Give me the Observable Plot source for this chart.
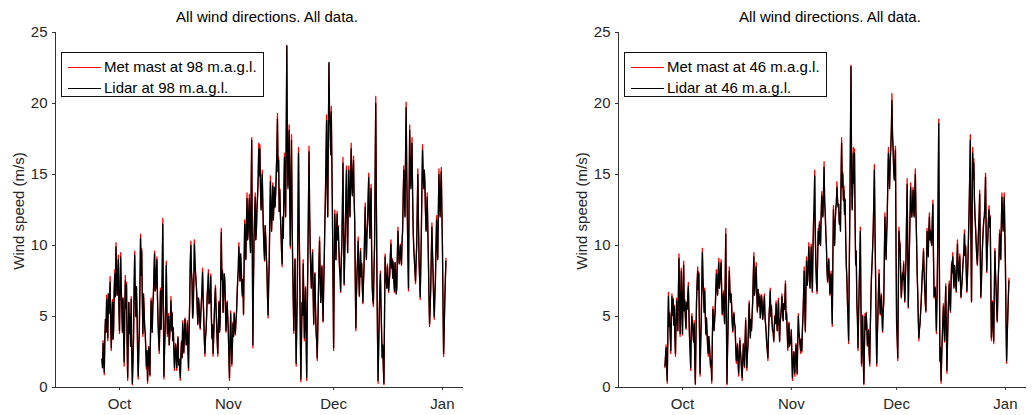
<!DOCTYPE html>
<html>
<head>
<meta charset="utf-8">
<script src="https://cdn.jsdelivr.net/npm/d3@7"></script>
<script src="https://cdn.jsdelivr.net/npm/@observablehq/plot@0.6"></script>
<style>
  html, body { margin: 0; padding: 0; background: #fff; }
  #wrap { position: relative; width: 1032px; height: 415px; overflow: hidden; background: #fff;
          font-family: "Liberation Sans", Arial, Helvetica, sans-serif; color: #262626; }
  .panel { position: absolute; top: 0; }
  .title { position: absolute; font-size: 15px; line-height: 15px; white-space: nowrap; transform: translateX(-50%); color: #000; }
  .ylab { position: absolute; font-size: 15px; line-height: 15px; white-space: nowrap;
          transform: translate(-50%, -50%) rotate(-90deg); color: #262626; }
  .legend { position: absolute; width: 201px; height: 43px; border: 1.5px solid #111; background: #fff; }
  .legend .row { position: absolute; left: 0; height: 16px; }
  .legend .row svg { position: absolute; left: 0; top: 0; }
  .legend .row span { position: absolute; left: 42px; top: 0; font-size: 15px; line-height: 16px; white-space: nowrap; color: #000; }
</style>
</head>
<body>
<div id="wrap"></div>
<script>
// ---------------- data ----------------
// 6 samples per day (every 4 hours), first sample 26 Sep 00:00 UTC; one row per day
const seriesStart = "2012-09-26T00:00:00Z";
const sampleHours = 4;

const metMast98 = [
  2.0,1.4,3.3,2.2,0.9,3.6, 4.8,3.9,6.5,5.0,3.3,6.6, 5.2,6.3,7.8,4.6,2.6,4.9, 6.2,3.4,4.0,6.9,8.3,6.4, 10.2,7.8,6.5,8.1,9.3,5.6,
  3.8,6.8,9.5,7.0,5.5,3.9, 6.3,3.7,1.5,5.2,7.9,5.6, 7.4,3.1,0.5,3.4,6.0,3.8, 5.2,2.9,6.4,2.4,0.2,1.8, 3.3,7.0,9.6,6.6,5.0,7.1,
  5.4,2.5,0.6,2.6,4.2,7.3, 10.8,7.9,9.8,6.2,3.6,6.6, 5.7,4.3,3.8,2.7,1.3,2.6, 0.3,1.9,2.9,1.6,0.8,3.7, 6.3,4.9,3.9,5.8,6.7,8.2,
  9.6,6.8,7.0,8.3,9.2,6.2, 4.5,3.3,2.4,4.6,7.0,4.1, 5.6,8.2,11.9,5.6,0.6,2.7, 4.0,6.1,8.9,5.5,3.6,4.6, 5.2,3.0,3.7,4.9,6.4,4.0,
  5.3,3.3,4.2,2.6,1.2,2.4, 3.1,2.1,1.2,2.8,3.6,1.6, 2.0,1.3,0.5,2.3,3.3,2.1, 4.7,3.6,2.4,3.9,4.9,3.8, 3.0,3.5,4.7,2.6,1.2,4.1,
  6.1,8.8,10.3,8.1,7.5,4.9, 5.4,7.4,10.4,8.9,8.1,7.4, 6.8,5.4,4.4,6.3,5.9,4.9, 4.1,5.2,6.1,6.9,8.4,6.3, 5.1,3.4,2.2,3.5,4.0,5.1,
  6.6,7.2,8.3,5.9,6.9,6.0, 8.0,5.1,3.4,4.4,2.2,3.6, 5.1,6.2,7.2,5.7,4.4,3.3, 2.2,4.3,6.1,3.9,4.6,7.6, 11.2,7.6,8.3,5.3,6.5,8.0,
  7.7,5.8,3.9,5.1,6.1,5.0, 4.0,2.2,0.5,3.1,5.4,3.4, 1.5,2.9,4.6,3.6,5.3,4.4, 3.7,4.6,5.3,6.4,7.7,8.3, 10.2,8.6,7.5,9.4,8.7,7.2,
  6.4,7.6,5.1,8.7,11.8,10.2, 9.1,11.6,13.7,10.4,11.1,12.4, 13.6,10.6,9.5,13.6,17.6,9.8, 2.8,7.4,10.6,12.2,13.7,10.4, 11.1,12.6,13.6,14.7,17.2,14.9,
  17.1,14.0,12.6,13.9,15.3,12.8, 11.2,9.8,8.9,11.4,10.6,9.3, 8.3,6.4,4.9,7.3,9.1,12.1, 14.9,12.3,11.1,12.9,14.4,11.8, 13.1,14.1,12.8,13.8,15.3,16.6,
  19.3,15.2,16.2,12.4,14.0,12.2, 11.1,9.6,8.5,12.0,10.6,13.8, 16.5,13.3,12.1,17.9,24.0,16.4, 14.2,16.8,18.5,13.2,9.8,14.6, 17.8,12.1,8.7,6.2,3.8,6.8,
  9.1,4.9,1.5,4.4,7.1,11.8, 16.9,11.7,8.6,4.1,0.4,3.2, 6.0,5.1,9.0,6.2,3.3,5.3, 7.1,3.6,0.5,5.5,9.2,12.9, 17.0,12.3,10.0,8.1,7.0,8.4,
  9.7,6.6,4.4,6.9,8.1,5.7, 3.9,3.3,1.9,4.2,6.6,8.9, 10.6,7.8,6.0,7.2,8.6,6.1, 4.6,7.1,9.1,11.5,13.7,16.2, 19.2,14.1,12.1,17.6,22.8,19.4,
  18.6,16.4,19.8,15.8,12.3,7.3, 2.6,8.1,12.5,10.6,9.0,10.8, 12.4,10.4,11.4,9.7,8.5,7.9, 6.7,8.8,10.1,12.6,16.2,10.9, 7.2,9.4,11.1,13.5,15.6,11.7,
  9.5,12.9,15.6,13.1,12.1,14.6, 17.2,14.3,13.6,15.1,16.3,13.4, 11.9,7.6,4.0,6.5,8.1,9.1, 10.6,8.0,6.4,8.4,9.8,7.8, 8.8,7.2,5.9,7.4,8.6,10.9,
  13.0,10.2,9.1,10.8,11.7,13.3, 15.1,12.1,10.6,12.8,14.3,9.6, 7.0,6.2,5.7,8.3,10.1,15.2, 20.5,13.4,8.1,3.7,0.3,2.9, 5.1,6.9,8.2,5.8,3.8,2.1,
  2.9,1.4,0.2,5.0,9.4,8.0, 7.6,7.0,8.7,7.6,6.7,7.4, 8.1,9.3,10.4,8.4,9.1,7.7, 8.9,7.5,6.7,8.8,8.1,6.6, 7.0,9.4,11.3,9.6,8.8,9.2,
  10.1,9.1,8.6,10.3,11.3,13.6, 15.6,13.2,12.1,16.4,20.1,15.1, 12.1,9.2,6.8,13.5,18.5,15.6, 14.2,15.9,17.6,13.6,11.1,9.8, 9.1,8.2,7.3,8.8,10.1,12.7,
  15.4,11.6,9.0,7.7,6.2,8.6, 11.1,14.2,17.1,15.1,14.2,15.3, 14.6,12.4,11.1,12.2,13.7,11.2, 9.1,6.3,4.3,5.6,7.1,9.4, 11.6,9.5,8.1,6.2,4.8,6.4,
  7.6,9.9,12.1,10.1,9.1,12.3, 15.4,13.2,12.1,13.9,15.5,12.6, 10.0,5.8,2.2,4.1,6.1,7.6, 9.1
];
const lidar98 = [
  2.0,1.4,3.1,2.2,1.1,3.6, 4.8,3.9,6.2,5.0,3.5,6.6, 5.2,6.3,7.4,4.6,2.8,4.9, 6.0,3.4,4.2,6.9,8.0,6.4, 9.9,7.8,6.5,8.1,9.0,5.6,
  4.0,6.8,9.2,7.0,5.5,3.9, 6.3,3.7,1.8,5.2,7.5,5.6, 7.2,3.1,0.7,3.4,6.0,3.8, 5.0,2.9,6.2,2.4,0.3,1.8, 3.5,7.0,9.3,6.6,5.0,7.1,
  5.2,2.5,0.8,2.6,4.2,7.3, 10.5,7.9,9.6,6.2,3.8,6.6, 5.5,4.3,3.8,2.7,1.5,2.6, 0.5,1.9,2.8,1.6,0.9,3.7, 6.1,4.9,3.9,5.8,6.5,8.2,
  9.4,6.8,7.0,8.3,9.0,6.2, 4.5,3.3,2.6,4.6,6.8,4.1, 5.5,8.2,11.5,5.6,0.8,2.7, 4.0,6.1,8.6,5.5,3.8,4.6, 5.0,3.0,3.8,4.9,6.1,4.0,
  5.2,3.3,4.2,2.6,1.4,2.4, 3.0,2.1,1.4,2.8,3.5,1.6, 2.0,1.3,0.7,2.3,3.2,2.1, 4.5,3.6,2.5,3.9,4.8,3.8, 3.0,3.5,4.5,2.6,1.4,4.1,
  6.0,8.8,10.0,8.1,7.5,4.9, 5.5,7.4,10.1,8.9,8.0,7.4, 6.6,5.4,4.5,6.3,5.8,4.9, 4.2,5.2,6.0,6.9,8.1,6.3, 5.0,3.4,2.4,3.5,4.0,5.1,
  6.5,7.2,8.0,5.9,6.8,6.0, 7.8,5.1,3.5,4.4,2.4,3.6, 5.0,6.2,7.0,5.7,4.5,3.3, 2.4,4.3,6.0,3.9,4.5,7.6, 10.9,7.6,8.2,5.3,6.5,8.0,
  7.5,5.8,4.0,5.1,6.0,5.0, 4.0,2.2,0.7,3.1,5.2,3.4, 1.7,2.9,4.5,3.6,5.2,4.4, 3.8,4.6,5.2,6.4,7.5,8.3, 9.9,8.6,7.5,9.4,8.5,7.2,
  6.5,7.6,5.2,8.7,11.5,10.2, 9.0,11.6,13.3,10.4,11.0,12.4, 13.3,10.6,9.5,13.6,17.4,9.8, 3.0,7.4,10.5,12.2,13.4,10.4, 11.0,12.6,13.4,14.7,16.8,14.9,
  16.8,14.0,12.5,13.9,15.0,12.8, 11.0,9.8,9.0,11.4,10.5,9.3, 8.2,6.4,5.1,7.3,9.0,12.1, 14.5,12.3,11.0,12.9,14.2,11.8, 13.0,14.1,12.7,13.8,15.0,16.6,
  18.9,15.2,16.0,12.4,13.9,12.2, 11.0,9.6,8.7,12.0,10.5,13.8, 16.2,13.3,12.0,17.9,24.1,16.4, 14.0,16.8,18.1,13.2,10.0,14.6, 17.4,12.1,8.7,6.2,4.0,6.8,
  9.0,4.9,1.7,4.4,7.0,11.8, 16.5,11.7,8.5,4.1,0.6,3.2, 6.0,5.1,8.7,6.2,3.5,5.3, 7.0,3.6,0.7,5.5,9.0,12.9, 16.6,12.3,9.9,8.1,7.0,8.4,
  9.5,6.6,4.5,6.9,8.0,5.7, 4.0,3.3,2.1,4.2,6.5,8.9, 10.3,7.8,6.0,7.2,8.5,6.1, 4.7,7.1,9.0,11.5,13.4,16.2, 18.8,14.1,12.0,17.6,22.9,19.4,
  18.3,16.4,19.4,15.8,12.2,7.3, 2.8,8.1,12.2,10.6,9.0,10.8, 12.2,10.4,11.3,9.7,8.5,7.9, 6.8,8.8,10.0,12.6,15.8,10.9, 7.3,9.4,11.0,13.5,15.3,11.7,
  9.5,12.9,15.3,13.1,12.0,14.6, 16.8,14.3,13.5,15.1,16.0,13.4, 11.8,7.6,4.2,6.5,8.0,9.1, 10.3,8.0,6.5,8.4,9.6,7.8, 8.7,7.2,6.0,7.4,8.5,10.9,
  12.7,10.2,9.0,10.8,11.5,13.3, 14.8,12.1,10.5,12.8,14.0,9.6, 7.1,6.2,5.9,8.3,10.0,15.2, 20.0,13.4,8.0,3.7,0.5,2.9, 5.0,6.9,8.0,5.8,4.0,2.1,
  3.0,1.4,0.3,5.0,9.2,8.0, 7.5,7.0,8.5,7.6,6.8,7.4, 8.0,9.3,10.1,8.4,9.0,7.7, 8.7,7.5,6.8,8.8,8.0,6.6, 7.0,9.4,11.0,9.6,8.7,9.2,
  10.0,9.1,8.7,10.3,11.0,13.6, 15.3,13.2,12.0,16.4,19.7,15.1, 12.0,9.2,7.0,13.5,18.1,15.6, 14.0,15.9,17.2,13.6,11.0,9.8, 9.0,8.2,7.5,8.8,10.0,12.7,
  15.0,11.6,9.0,7.7,6.4,8.6, 11.0,14.2,16.7,15.1,14.0,15.3, 14.3,12.4,11.0,12.2,13.4,11.2, 9.0,6.3,4.5,5.6,7.0,9.4, 11.3,9.5,8.0,6.2,5.0,6.4,
  7.5,9.9,11.8,10.1,9.0,12.3, 15.0,13.2,12.0,13.9,15.2,12.6, 9.9,5.8,2.4,4.1,6.0,7.6, 8.9
];
const metMast46 = [
  1.4,2.2,3.0,1.3,0.3,3.9, 6.7,4.3,5.3,3.8,2.4,4.7, 6.6,5.1,6.3,4.4,5.8,3.6, 2.2,4.7,6.3,5.0,4.0,6.7, 9.4,5.9,3.6,6.4,8.4,5.2,
  3.7,6.7,8.9,5.4,6.2,4.9, 4.1,6.0,5.6,6.4,7.4,5.3, 3.6,2.6,1.2,3.9,5.2,4.4, 3.8,3.2,4.7,1.9,0.2,3.4, 6.1,7.4,8.5,6.9,8.1,4.1,
  0.8,2.9,4.6,7.2,9.8,7.7, 6.6,5.3,7.0,5.1,3.7,4.9, 3.9,2.9,2.2,3.6,3.1,2.2, 1.4,1.9,0.3,3.3,5.7,4.6, 4.1,4.8,5.6,6.9,8.3,7.1,
  6.6,7.9,9.1,7.0,7.6,8.2, 9.0,6.7,5.1,5.9,6.8,5.4, 4.5,7.6,11.2,5.1,0.2,2.6, 4.6,6.6,8.5,6.9,6.1,6.6, 5.9,4.6,3.9,4.9,5.3,4.5,
  4.3,2.8,1.7,2.5,3.1,1.8, 0.8,2.2,3.5,2.6,2.0,1.2, 0.5,1.9,3.1,2.2,1.4,3.3, 4.9,2.8,1.2,2.4,3.1,4.6, 6.1,4.4,3.5,4.8,4.1,5.1,
  6.1,7.8,9.5,6.5,7.1,7.9, 8.8,6.6,5.3,6.9,6.5,5.7, 6.6,4.9,5.5,6.5,6.1,4.8, 5.2,5.8,6.6,5.0,4.4,3.9, 2.9,2.6,1.9,3.7,5.1,5.9,
  7.0,5.0,5.8,4.6,4.0,3.9, 3.2,4.4,5.1,4.5,6.1,4.7, 4.0,5.2,6.3,4.4,3.2,4.6, 5.1,5.6,6.6,5.3,4.7,5.9, 5.5,6.2,7.5,4.8,5.3,3.9,
  2.6,3.7,4.6,2.9,3.5,3.1, 4.1,2.1,0.5,1.8,2.5,1.6, 0.8,2.4,3.1,1.9,0.9,3.2, 5.2,3.9,3.5,3.0,2.4,3.4, 2.5,4.1,5.1,6.6,8.5,5.7,
  3.9,6.8,9.2,7.2,7.6,8.8, 10.2,8.1,7.0,8.6,10.1,8.0, 6.7,9.6,11.8,12.8,15.3,10.9, 8.6,7.4,6.6,9.2,11.2,10.1, 11.7,10.6,10.1,12.1,13.8,12.4,
  12.1,13.7,15.9,13.1,12.4,10.8, 10.1,8.3,7.4,8.4,9.1,7.7, 6.5,7.6,8.2,6.0,4.3,8.9, 12.8,10.9,10.1,11.6,12.7,13.0, 14.5,13.2,12.8,12.9,11.6,12.3,
  11.1,14.6,17.6,14.1,15.2,13.2, 14.2,12.2,13.3,10.4,8.6,7.6, 5.9,4.8,3.1,8.1,12.2,17.3, 22.7,15.4,12.6,14.2,16.9,14.4, 16.8,11.8,8.6,9.6,5.9,4.9,
  2.6,5.1,7.1,8.8,11.3,5.9, 1.5,3.6,5.1,2.2,0.2,2.9, 5.2,4.1,5.3,4.4,2.9,3.6, 4.1,2.5,1.5,4.1,6.1,7.8, 8.8,9.8,11.2,13.1,15.7,11.2,
  8.1,4.4,1.5,3.6,5.1,6.9, 8.3,6.3,5.1,5.9,6.6,5.1, 3.9,5.3,6.1,9.1,12.3,10.4, 9.1,10.8,12.2,14.6,16.9,15.2, 14.2,15.9,17.0,18.1,20.7,17.8,
  17.0,15.3,14.7,15.8,17.0,9.8, 4.3,3.4,1.9,7.0,11.3,10.3, 10.1,7.8,6.3,7.1,8.1,7.6, 8.9,7.2,6.0,7.7,9.1,11.9, 14.7,9.6,5.6,8.3,10.1,12.2,
  14.4,12.8,12.1,12.6,14.1,12.7, 12.1,13.6,15.4,12.4,10.7,8.3, 6.7,4.9,3.3,4.1,4.5,5.3, 6.1,7.1,8.2,8.7,9.8,8.1, 7.1,6.0,5.3,8.3,11.2,10.0,
  9.3,10.9,12.3,10.4,11.1,10.3, 10.1,11.8,13.2,9.3,6.3,6.9, 7.1,5.6,3.8,6.2,9.1,13.7, 18.9,9.4,1.8,2.8,0.3,2.1, 3.4,4.7,5.9,4.4,3.2,5.6,
  7.3,4.0,1.0,3.3,5.1,6.4, 7.5,6.0,5.3,7.2,8.9,8.1, 9.5,7.9,7.1,8.6,8.1,7.3, 6.7,8.7,10.4,8.3,7.6,8.6, 9.4,7.6,6.3,7.0,7.6,8.4,
  9.1,9.7,11.1,9.3,10.0,8.2, 6.7,7.7,9.1,10.9,12.8,15.1, 17.8,10.8,6.0,11.7,16.9,14.7, 16.1,13.3,12.1,11.2,10.2,9.2, 8.6,9.8,11.1,12.1,13.9,9.3,
  6.3,7.5,9.1,10.2,11.2,11.8, 12.1,13.1,15.1,11.0,8.1,9.7, 10.7,11.9,12.8,11.3,12.1,7.4, 3.3,5.2,6.1,4.1,3.1,6.8, 9.8,8.1,7.1,5.6,4.6,6.5,
  8.1,9.2,11.1,9.6,9.1,11.4, 13.7,12.1,11.1,12.3,13.7,10.9, 8.7,4.7,1.7,3.6,5.1,6.4, 7.7
];
const lidar46 = [
  1.5,2.2,2.8,1.3,0.5,3.9, 6.4,4.3,5.2,3.8,2.6,4.7, 6.4,5.1,6.2,4.4,5.7,3.6, 2.4,4.7,6.1,5.0,4.0,6.7, 9.1,5.9,3.8,6.4,8.2,5.2,
  3.8,6.7,8.6,5.4,6.1,4.9, 4.2,6.0,5.5,6.4,7.1,5.3, 3.5,2.6,1.4,3.9,5.0,4.4, 3.8,3.2,4.5,1.9,0.3,3.4, 6.0,7.4,8.2,6.9,8.0,4.1,
  1.0,2.9,4.5,7.2,9.5,7.7, 6.5,5.3,6.8,5.1,3.8,4.9, 3.8,2.9,2.4,3.6,3.0,2.2, 1.5,1.9,0.5,3.3,5.5,4.6, 4.0,4.8,5.5,6.9,8.0,7.1,
  6.5,7.9,8.8,7.0,7.5,8.2, 8.8,6.7,5.2,5.9,6.6,5.4, 4.5,7.6,10.8,5.1,0.3,2.6, 4.5,6.6,8.2,6.9,6.0,6.6, 5.7,4.6,4.0,4.9,5.2,4.5,
  4.2,2.8,1.9,2.5,3.0,1.8, 1.0,2.2,3.3,2.6,2.0,1.2, 0.7,1.9,3.0,2.2,1.5,3.3, 4.7,2.8,1.4,2.4,3.0,4.6, 5.9,4.4,3.5,4.8,4.0,5.1,
  6.0,7.8,9.2,6.5,7.0,7.9, 8.5,6.6,5.4,6.9,6.4,5.7, 6.4,4.9,5.5,6.5,6.0,4.8, 5.2,5.8,6.4,5.0,4.5,3.9, 3.1,2.6,2.1,3.7,5.0,5.9,
  6.8,5.0,5.7,4.6,4.0,3.9, 3.3,4.4,5.0,4.5,5.9,4.7, 4.0,5.2,6.1,4.4,3.3,4.6, 5.0,5.6,6.4,5.3,4.7,5.9, 5.5,6.2,7.3,4.8,5.2,3.9,
  2.8,3.7,4.5,2.9,3.5,3.1, 4.0,2.1,0.7,1.8,2.5,1.6, 1.0,2.4,3.0,1.9,1.0,3.2, 5.0,3.9,3.5,3.0,2.6,3.4, 2.6,4.1,5.0,6.6,8.2,5.7,
  4.0,6.8,8.9,7.2,7.5,8.8, 9.9,8.1,7.0,8.6,9.9,8.0, 6.8,9.6,11.5,12.8,14.9,10.9, 8.5,7.4,6.8,9.2,11.0,10.1, 11.5,10.6,10.0,12.1,13.5,12.4,
  12.0,13.7,15.5,13.1,12.2,10.8, 9.9,8.3,7.5,8.4,9.0,7.7, 6.6,7.6,8.0,6.0,4.5,8.9, 12.5,10.9,10.0,11.6,12.5,13.0, 14.1,13.2,12.7,12.9,11.5,12.3,
  11.0,14.6,17.2,14.1,15.0,13.2, 13.9,12.2,13.2,10.4,8.7,7.6, 6.0,4.8,3.3,8.1,12.0,17.3, 22.6,15.4,12.5,14.2,16.5,14.4, 16.5,11.8,8.7,9.6,6.0,4.9,
  2.8,5.1,7.0,8.8,11.0,5.9, 1.7,3.6,5.0,2.2,0.3,2.9, 5.0,4.1,5.2,4.4,3.0,3.6, 4.0,2.5,1.7,4.1,6.0,7.8, 8.7,9.8,11.0,13.1,15.3,11.2,
  8.0,4.4,1.7,3.6,5.0,6.9, 8.0,6.3,5.2,5.9,6.5,5.1, 4.0,5.3,6.0,9.1,12.0,10.4, 9.0,10.8,12.0,14.6,16.5,15.2, 14.0,15.9,16.7,18.1,20.2,17.8,
  16.7,15.3,14.6,15.8,16.7,9.8, 4.5,3.4,2.1,7.0,11.0,10.3, 9.9,7.8,6.4,7.1,8.0,7.6, 8.7,7.2,6.1,7.7,9.0,11.9, 14.3,9.6,5.7,8.3,10.0,12.2,
  14.1,12.8,12.0,12.6,13.9,12.7, 12.0,13.6,15.0,12.4,10.6,8.3, 6.8,4.9,3.5,4.1,4.5,5.3, 6.0,7.1,8.0,8.7,9.6,8.1, 7.0,6.0,5.4,8.3,11.0,10.0,
  9.2,10.9,12.0,10.4,11.0,10.3, 10.0,11.8,12.9,9.3,6.4,6.9, 7.0,5.6,4.0,6.2,9.0,13.7, 18.6,9.4,1.9,2.8,0.5,2.1, 3.5,4.7,5.7,4.4,3.3,5.6,
  7.1,4.0,1.2,3.3,5.0,6.4, 7.3,6.0,5.4,7.2,8.7,8.1, 9.2,7.9,7.0,8.6,8.0,7.3, 6.8,8.7,10.1,8.3,7.5,8.6, 9.2,7.6,6.4,7.0,7.5,8.4,
  9.0,9.7,10.8,9.3,9.9,8.2, 6.8,7.7,9.0,10.9,12.5,15.1, 17.4,10.8,6.1,11.7,16.5,14.7, 15.8,13.3,12.0,11.2,10.1,9.2, 8.7,9.8,11.0,12.1,13.6,9.3,
  6.4,7.5,9.0,10.2,11.0,11.8, 12.0,13.1,14.8,11.0,8.2,9.7, 10.6,11.9,12.5,11.3,12.0,7.4, 3.5,5.2,6.0,4.1,3.3,6.8, 9.6,8.1,7.0,5.6,4.7,6.5,
  8.0,9.2,10.8,9.6,9.0,11.4, 13.4,12.1,11.0,12.3,13.4,10.9, 8.5,4.7,1.9,3.6,5.0,6.4, 7.5
];

const panelTitles = ["All wind directions. All data.", "All wind directions. All data."];
const legendLabels = [
  ["Met mast at 98 m.a.g.l.", "Lidar at 98 m.a.g.l."],
  ["Met mast at 46 m.a.g.l.", "Lidar at 46 m.a.g.l."]
];
const yLabel = "Wind speed (m/s)";
const yTicks = [0, 5, 10, 15, 20, 25];
const xTickDates = ["2012-10-01", "2012-11-01", "2012-12-01", "2013-01-01"];
const xTickLabels = ["Oct", "Nov", "Dec", "Jan"];
const xDomainDates = ["2012-09-12T18:30:00Z", "2013-01-07T00:00:00Z"];
const seriesColors = ["#ff0000", "#000000"];

// ---------------- build ----------------
const t0 = new Date(seriesStart).getTime();
const toRows = (vals) => vals.map((v, i) => ({t: new Date(t0 + i * sampleHours * 3600e3), v}));
const tickDates = xTickDates.map(s => new Date(s + "T00:00:00Z"));
const tickLabelMap = new Map(tickDates.map((d, i) => [+d, xTickLabels[i]]));
const xDomain = xDomainDates.map(s => new Date(s));

const panels = [
  {left: 0, met: metMast98, lid: lidar98},
  {left: 563, met: metMast46, lid: lidar46}
];

const wrap = document.getElementById("wrap");
const axisColor = "#333";

panels.forEach((p, k) => {
  const chart = Plot.plot({
    width: 469,
    height: 415,
    marginLeft: 55,
    marginRight: 6,
    marginTop: 32,
    marginBottom: 28,
    style: {fontSize: "15px", fontFamily: "'Liberation Sans', Arial, Helvetica, sans-serif", color: "#262626", background: "transparent", overflow: "visible"},
    x: {type: "utc", domain: xDomain},
    y: {domain: [0, 25]},
    marks: [
      Plot.line(toRows(p.met), {x: "t", y: "v", stroke: seriesColors[0], strokeWidth: 1.3}),
      Plot.line(toRows(p.lid), {x: "t", y: "v", stroke: seriesColors[1], strokeWidth: 1.3}),
      Plot.ruleY([0], {stroke: axisColor, strokeWidth: 1}),
      Plot.ruleX([xDomain[0]], {stroke: axisColor, strokeWidth: 1}),
      Plot.axisX({ticks: tickDates, tickFormat: d => tickLabelMap.get(+d), tickSize: 3, tickPadding: 8, label: null, stroke: axisColor, fill: "#262626"}),
      Plot.axisY({ticks: yTicks, tickSize: 3, tickPadding: 5, label: null, stroke: axisColor, fill: "#262626"})
    ]
  });
  chart.classList.add("panel");
  chart.style.left = p.left + "px";
  wrap.appendChild(chart);

  const title = document.createElement("div");
  title.className = "title";
  title.textContent = panelTitles[k];
  title.style.left = (p.left + 267) + "px";
  title.style.top = "9px";
  wrap.appendChild(title);

  const yl = document.createElement("div");
  yl.className = "ylab";
  yl.textContent = yLabel;
  yl.style.left = (p.left + 18) + "px";
  yl.style.top = "211px";
  wrap.appendChild(yl);

  const lg = document.createElement("div");
  lg.className = "legend";
  lg.style.left = (p.left + 61) + "px";
  lg.style.top = "52px";
  legendLabels[k].forEach((lab, j) => {
    const row = document.createElement("div");
    row.className = "row";
    row.style.top = (j === 0 ? 6 : 27) + "px";
    const ns = "http://www.w3.org/2000/svg";
    const s = document.createElementNS(ns, "svg");
    s.setAttribute("width", "40");
    s.setAttribute("height", "16");
    const ln = document.createElementNS(ns, "line");
    ln.setAttribute("x1", "6"); ln.setAttribute("x2", "39");
    ln.setAttribute("y1", "8.5"); ln.setAttribute("y2", "8.5");
    ln.setAttribute("stroke", seriesColors[j]);
    ln.setAttribute("stroke-width", "1");
    ln.setAttribute("shape-rendering", "crispEdges");
    s.appendChild(ln);
    row.appendChild(s);
    const sp = document.createElement("span");
    sp.textContent = lab;
    row.appendChild(sp);
    lg.appendChild(row);
  });
  wrap.appendChild(lg);
});
</script>
</body>
</html>
